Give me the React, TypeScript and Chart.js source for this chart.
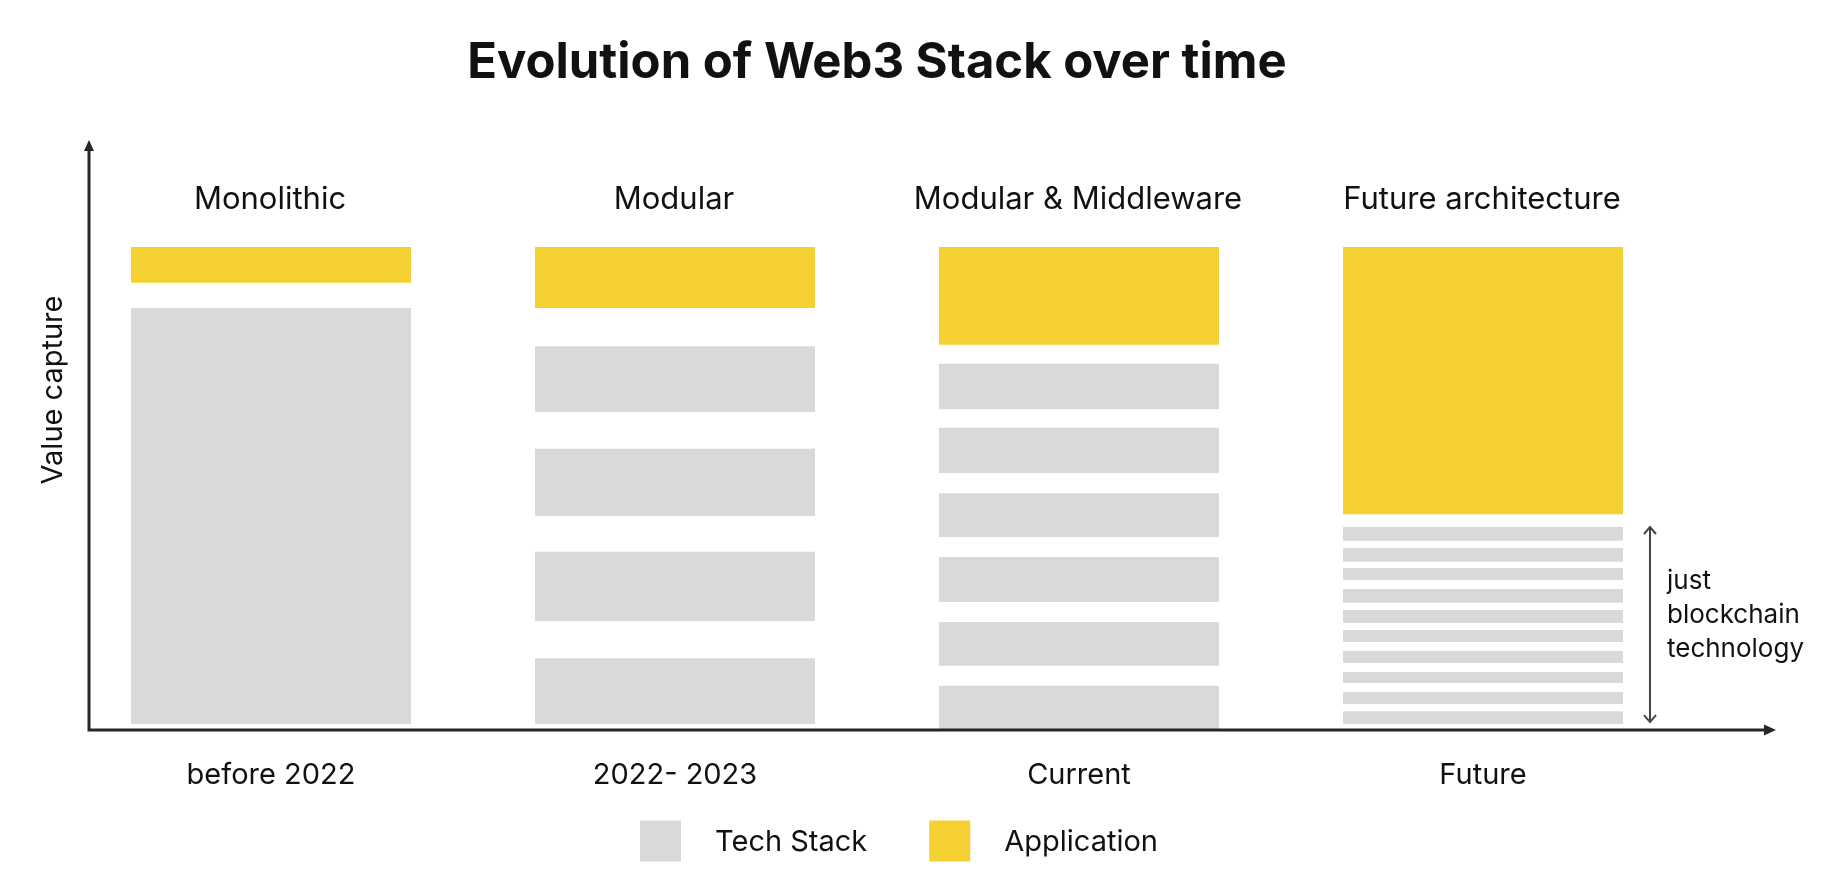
import { useEffect, useRef } from "react";
import { Chart, registerables } from "chart.js";

Chart.register(...registerables);

// Periods on the time axis and the architecture name shown above each column
const periods = ["before 2022", "2022- 2023", "Current", "Future"];
const architectures = ["Monolithic", "Modular", "Modular & Middleware", "Future architecture"];
const seriesNames = ["Tech Stack", "Application"];
const chartTitle = "Evolution of Web3 Stack over time";
const yAxisTitle = "Value capture";
const annotationLines = ["just", "blockchain", "technology"];

// Tech stack layers of each period, as [bottom, top] in value-capture units (0–100)
const monolithicTech: [number, number][] = [[0, 87.2]];
const modularTech: [number, number][] = [
  [0, 13.8],
  [21.6, 36.1],
  [43.6, 57.7],
  [65.4, 79.2],
];
const middlewareTech: [number, number][] = [
  [-1.25, 8.0],
  [12.2, 21.4],
  [25.6, 35.0],
  [39.2, 48.4],
  [52.6, 62.1],
  [66.0, 75.5],
];
const futureTech: [number, number][] = [
  [0, 2.7],
  [4.2, 6.7],
  [8.6, 10.9],
  [12.8, 15.3],
  [17.2, 19.7],
  [21.2, 23.9],
  [25.4, 28.3],
  [30.2, 32.7],
  [34.0, 36.9],
  [38.4, 41.3],
];
// Application layer of each period, [bottom, top]
const applicationLayer: [number, number][] = [
  [92.5, 100],
  [87.2, 100],
  [79.5, 100],
  [44.0, 100],
];

const techByPeriod = [monolithicTech, modularTech, middlewareTech, futureTech];

const GRAY = "#D9D9D9";
const YELLOW = "#F5D033";
const INK = "#111111";
const AXIS = "#262626";
const FONT = "Inter, 'Noto Sans', sans-serif";

const overlayPlugin = {
  id: "stackOverlay",
  afterDraw(chart: any) {
    const { ctx, chartArea, scales } = chart;
    const xScale = scales.x;
    const axisX = chartArea.left + 20;
    const axisY = chartArea.bottom;
    const yTip = 140;
    const xTip = chartArea.right + 91;

    ctx.save();

    // axes with arrowheads
    ctx.strokeStyle = AXIS;
    ctx.fillStyle = AXIS;
    ctx.lineWidth = 3;
    ctx.beginPath();
    ctx.moveTo(axisX, axisY);
    ctx.lineTo(axisX, yTip + 8);
    ctx.moveTo(axisX - 1.5, axisY);
    ctx.lineTo(xTip - 8, axisY);
    ctx.stroke();
    ctx.beginPath();
    ctx.moveTo(axisX, yTip);
    ctx.lineTo(axisX - 5, yTip + 11);
    ctx.lineTo(axisX + 5, yTip + 11);
    ctx.closePath();
    ctx.fill();
    ctx.beginPath();
    ctx.moveTo(xTip, axisY);
    ctx.lineTo(xTip - 12, axisY - 5.5);
    ctx.lineTo(xTip - 12, axisY + 5.5);
    ctx.closePath();
    ctx.fill();

    // architecture names above the columns
    ctx.fillStyle = INK;
    ctx.font = `400 31px ${FONT}`;
    ctx.textAlign = "center";
    ctx.textBaseline = "middle";
    architectures.forEach((name, i) => {
      ctx.fillText(name, xScale.getPixelForValue(i) - 1, 199.5);
    });

    // y-axis title
    ctx.save();
    ctx.translate(53, 390);
    ctx.rotate(-Math.PI / 2);
    ctx.font = `400 29px ${FONT}`;
    ctx.fillText(yAxisTitle, 0, 0);
    ctx.restore();

    // double arrow spanning the future tech stack
    const last = futureTech.length - 1;
    const lastIdx = periods.length - 1;
    const topEl = chart.getDatasetMeta(last).data[lastIdx];
    const botEl = chart.getDatasetMeta(0).data[lastIdx];
    const arrowX = topEl.x + topEl.width / 2 + 27;
    const top = topEl.y;
    const bottom = botEl.base - 2;
    ctx.strokeStyle = "#444";
    ctx.lineWidth = 2;
    ctx.beginPath();
    ctx.moveTo(arrowX, top);
    ctx.lineTo(arrowX, bottom);
    ctx.moveTo(arrowX - 6, top + 7);
    ctx.lineTo(arrowX, top);
    ctx.lineTo(arrowX + 6, top + 7);
    ctx.moveTo(arrowX - 6, bottom - 7);
    ctx.lineTo(arrowX, bottom);
    ctx.lineTo(arrowX + 6, bottom - 7);
    ctx.stroke();

    const mid = (top + bottom) / 2;
    ctx.fillStyle = INK;
    ctx.font = `400 26px ${FONT}`;
    ctx.textAlign = "left";
    ctx.textBaseline = "alphabetic";
    annotationLines.forEach((line, i) => {
      ctx.fillText(line, arrowX + 17, mid - 36 + i * 34);
    });

    // legend
    const box = 41;
    const gap = 34;
    const itemGap = 62;
    ctx.font = `400 29px ${FONT}`;
    const widths = seriesNames.map((n) => ctx.measureText(n).width);
    const total = box * 2 + gap * 2 + itemGap + widths[0] + widths[1];
    let lx = (chartArea.left + chartArea.right) / 2 + 22 - total / 2;
    const ly = 841;
    const colors = [GRAY, YELLOW];
    seriesNames.forEach((name, i) => {
      ctx.fillStyle = colors[i];
      ctx.fillRect(lx, ly - box / 2, box, box);
      ctx.fillStyle = INK;
      ctx.textBaseline = "middle";
      ctx.fillText(name, lx + box + gap, ly + 1);
      lx += box + gap + widths[i] + itemGap;
    });

    ctx.restore();
  },
};

export default function App() {
  const canvasRef = useRef<HTMLCanvasElement | null>(null);

  useEffect(() => {
    const canvas = canvasRef.current;
    if (!canvas) return;

    const maxLayers = Math.max(...techByPeriod.map((t) => t.length));
    const barStyle = {
      grouped: false,
      categoryPercentage: 1,
      barPercentage: 0.693,
      borderWidth: 0,
      borderSkipped: false,
    };
    const techDatasets = Array.from({ length: maxLayers }, (_, layer) => ({
      label: seriesNames[0],
      data: techByPeriod.map((t) => (t[layer] ? t[layer] : null)),
      backgroundColor: GRAY,
      ...barStyle,
    }));
    const appDataset = {
      label: seriesNames[1],
      data: applicationLayer,
      backgroundColor: YELLOW,
      ...barStyle,
    };

    const chart = new Chart(canvas, {
      type: "bar",
      data: {
        labels: periods,
        datasets: [...techDatasets, appDataset] as any,
      },
      options: {
        animation: false,
        responsive: false,
        devicePixelRatio: 1,
        events: [],
        layout: { padding: { left: 69, right: 161, top: 0, bottom: 0 } },
        plugins: {
          legend: { display: false },
          tooltip: { enabled: false },
          title: {
            display: true,
            text: chartTitle,
            color: INK,
            font: { family: FONT, size: 49, weight: "bold" },
            padding: { top: 34, bottom: 154.2 },
          },
        },
        scales: {
          x: {
            type: "category",
            grid: { display: false, drawTicks: false },
            border: { display: false },
            ticks: {
              color: INK,
              font: { family: FONT, size: 29 },
              padding: 28,
              maxRotation: 0,
              autoSkip: false,
            },
            afterFit: (scale: any) => {
              scale.height = 160;
            },
          },
          y: {
            display: false,
            min: -1.25,
            max: 100,
          },
        },
      },
      plugins: [overlayPlugin],
    });

    return () => chart.destroy();
  }, []);

  return (
    <div style={{ position: "fixed", left: 0, top: 0, width: 1846, height: 890, background: "#fff" }}>
      <canvas ref={canvasRef} width={1846} height={890} style={{ display: "block" }} />
    </div>
  );
}
